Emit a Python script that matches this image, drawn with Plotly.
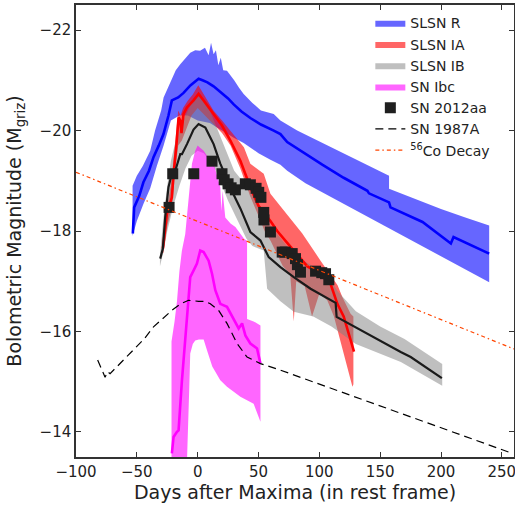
import plotly.graph_objects as go

# ---------------- data ----------------
# SLSN R : mean curve and envelope
slsn_r_x = [-53.3, -52.2, -48, -44.6, -40, -36.3, -32, -28.1, -24, -21.2, -16, -11.6, -6, -2, 0.75, 4, 8,
            13.1, 20, 25, 29.6, 36, 43.3, 52, 62.5, 68, 73.6, 80, 88.6, 102.4, 120, 139.5, 140.8, 157.3,
            158.5, 184.8, 208.1, 210.3, 239.6]
slsn_r_y = [-17.95, -18.47, -18.7, -18.97, -19.2, -19.47, -19.7, -19.93, -20.3, -20.6, -20.66, -20.75,
            -20.9, -20.98, -21.03, -21.0, -20.96, -20.88, -20.75, -20.64, -20.52, -20.38, -20.25, -20.12,
            -20.0, -19.93, -19.77, -19.67, -19.53, -19.32, -19.06, -18.8, -18.75, -18.57, -18.47, -18.18,
            -17.75, -17.88, -17.55]
slsn_r_up_x = [-53.5, -50, -45, -39, -35, -30, -28, -22, -18, -14.3, -10, -6.1, -2, 2, 6, 9, 11, 13.1,
               15, 17, 19, 21, 24.1, 27, 30, 34, 37.8, 45, 52, 62.5, 68, 81.8, 100, 120, 140.8, 157.3,
               157.3, 180, 200, 220, 239.6]
slsn_r_up_y = [-18.9, -19.1, -19.3, -19.6, -20.0, -20.4, -20.66, -21.0, -21.2, -21.32, -21.45, -21.55,
               -21.6, -21.59, -21.65, -21.5, -21.75, -21.52, -21.6, -21.3, -21.45, -21.2, -21.19, -21.1,
               -21.0, -20.85, -20.73, -20.55, -20.4, -20.33, -20.2, -20.0, -19.78, -19.55, -19.3, -19.1,
               -18.84, -18.62, -18.44, -18.27, -18.11]
slsn_r_lo_x = [-53.5, -50, -44.6, -39, -33.5, -28, -22, -15, -8, 0, 10, 20, 30, 37.8, 50, 59.8, 68, 73.6,
               88.6, 239.6]
slsn_r_lo_y = [-17.9, -18.2, -18.54, -18.85, -19.3, -19.7, -20.2, -20.3, -20.3, -20.2, -20.15, -20.0,
               -19.85, -19.75, -19.55, -19.42, -19.32, -19.2, -18.95, -16.98]

# SLSN IA
slsn_ia_x = [-28.6, -25.3, -21.2, -19.8, -17.5, -15.7, -14.3, -13.3, -11.6, -8.8, -3.4, 0.75, 4.9, 13.1,
             20, 26.9, 35.1, 43.3, 50, 59.8, 65.4, 79, 90, 100, 109.2, 114.8, 120, 128.5]
slsn_ia_y = [-17.65, -18.34, -18.67, -19.14, -19.7, -20.26, -20.2, -19.95, -20.33, -20.46, -20.6, -20.73,
             -20.6, -20.33, -20.1, -19.8, -19.4, -18.87, -18.5, -18.2, -18.0, -17.61, -17.3, -17.15,
             -16.95, -16.55, -16.3, -15.6]
slsn_ia_up_x = [-28.8, -25, -21.5, -18, -16, -14, -12, -8, -4, 0.5, 3, 8, 13, 20, 27, 38, 43.3, 54.3,
                59.8, 86, 101, 115, 119, 125.7, 128]
slsn_ia_up_y = [-17.6, -18.5, -19.0, -19.9, -20.4, -20.3, -20.45, -20.6, -20.72, -20.9, -20.8, -20.6,
                -20.4, -20.2, -20.0, -19.67, -19.34, -19.14, -18.74, -17.95, -17.41, -16.92, -16.68,
                -16.35, -16.3]
slsn_ia_lo_x = [-28.2, -25, -21, -18, -16, -13, -10, -5, 0, 10, 20, 27, 35, 43, 50, 55, 60, 70, 76, 79,
                81, 88, 94, 100, 106.5, 112, 127.2, 128]
slsn_ia_lo_y = [-17.55, -18.1, -18.5, -19.3, -19.7, -19.8, -20.0, -20.3, -20.45, -20.2, -19.95, -19.7,
                -19.25, -18.7, -18.3, -18.0, -17.8, -17.3, -17.15, -16.2, -17.0, -16.9, -16.3, -16.75,
                -16.62, -16.3, -14.9, -14.95]

# SLSN IB
slsn_ib_x = [-30.8, -28.6, -26.7, -24, -21.2, -18.4, -14.3, -12.9, -8.8, -6, -3.4, 0.75, 6.3, 10.4,
             13.1, 18.6, 25.5, 30, 35.1, 43.3, 51.6, 58.4, 68, 79, 92.8, 113.4, 114.2, 131.2, 166.9,
             175.1, 200.7]
slsn_ib_y = [-17.45, -17.65, -18.27, -18.87, -19.14, -19.2, -19.53, -19.53, -19.73, -19.9, -20.02,
             -20.13, -20.06, -19.86, -19.73, -19.34, -18.94, -18.7, -18.45, -17.98, -17.81, -17.48,
             -17.28, -17.08, -16.85, -16.57, -16.29, -16.06, -15.59, -15.49, -15.07]
slsn_ib_up_x = [-31, -28, -25, -22, -18, -15, -10, -5, 0, 5, 10, 15, 20, 25, 30, 40, 50, 60, 70, 80, 95,
                110, 115, 130, 150, 170, 201]
slsn_ib_up_y = [-17.5, -18.3, -18.9, -19.4, -19.8, -20.0, -20.3, -20.55, -20.7, -20.6, -20.4, -20.1,
                -19.8, -19.5, -19.2, -18.9, -18.5, -18.1, -17.8, -17.5, -17.3, -17.0, -16.8, -16.4,
                -16.1, -15.85, -15.35]
slsn_ib_lo_x = [-31, -28, -25, -20, -15, -10, -5, 0, 5, 10, 15, 20, 25, 30, 35, 40, 45, 50, 54.3, 57.1,
                68, 79, 95, 110, 130, 167, 201]
slsn_ib_lo_y = [-17.3, -17.6, -18.0, -18.5, -18.9, -19.25, -19.5, -19.6, -19.55, -19.4, -19.2, -18.9,
                -18.6, -18.35, -18.1, -17.85, -17.7, -17.65, -17.61, -16.85, -16.6, -16.39, -16.3,
                -16.1, -15.75, -15.39, -14.92]

# SN Ibc
sn_ibc_x = [-21.2, -19.8, -17, -15.7, -13, -10.2, -8, -6.1, -3.4, -0.6, 2.1, 4.9, 9, 11.8, 14.5, 18.6,
            24.1, 29.6, 33.7, 36.5, 39.2, 43.3, 48.8, 51.6]
sn_ibc_y = [-13.57, -13.9, -14.0, -14.03, -15.0, -15.82, -16.5, -17.08, -17.21, -17.35, -17.61, -17.58,
            -17.41, -17.15, -16.82, -16.55, -16.49, -16.25, -16.06, -16.16, -15.92, -15.76, -15.66,
            -15.36]
sn_ibc_up_x = [-21.5, -21.5, -19, -17, -15, -13, -10.2, -7.5, -4.7, -2, 0, 2, 5, 9, 13.1, 16, 18.6, 19.5,
               20.5, 22.7, 27, 31, 35.1, 38, 40.6, 40.6, 46, 51.6]
sn_ibc_up_y = [-13.4, -15.8, -16.2, -16.6, -17.2, -17.6, -17.94, -18.67, -19.34, -19.6, -19.7, -19.66,
               -19.6, -19.45, -19.34, -19.1, -18.87, -18.4, -18.8, -18.27, -18.15, -18.08, -17.94,
               -17.85, -17.8, -16.25, -16.2, -16.12]
sn_ibc_lo_x = [-8.8, -7, -6.1, -4, -2, 1, 4.9, 8, 12, 18.6, 24.1, 35.1, 46, 51.6]
sn_ibc_lo_y = [-13.4, -14.8, -15.56, -15.75, -15.82, -15.84, -15.84, -15.6, -15.3, -15.03, -14.9, -14.7,
               -14.56, -14.2]

# SN 2012aa
sn2012aa_x = [-23.5, -20.5, -3.2, 11.8, 20, 21.8, 25, 27.5, 31, 39.2, 43.3, 48, 50.2, 52, 54.3, 54.5,
              59.8, 69.5, 72, 77.7, 80.4, 82, 84.5, 96.9, 102, 105.1, 107.8]
sn2012aa_y = [-18.47, -19.14, -19.14, -19.39, -19.14, -19.02, -18.94, -18.86, -18.82, -18.94, -18.92,
              -18.85, -18.77, -18.67, -18.37, -18.22, -17.98, -17.58, -17.58, -17.55, -17.45, -17.33,
              -17.18, -17.2, -17.17, -17.15, -17.03]

# SN 1987A
sn1987a_x = [-82.2, -79, -76.1, -74, -72, -67.9, -60, -52.8, -44, -36.3, -28, -21.2, -14, -7.5, 0.75, 6,
             10.4, 17.2, 24.1, 32.4, 40.6, 51.6, 68, 100, 136.7, 200, 249.3, 258.9]
sn1987a_y = [-15.43, -15.25, -15.09, -15.2, -15.16, -15.26, -15.45, -15.62, -15.85, -16.09, -16.28,
             -16.42, -16.55, -16.62, -16.6, -16.6, -16.55, -16.42, -16.16, -15.76, -15.49, -15.36,
             -15.23, -14.95, -14.63, -14.07, -13.64, -13.57]

# 56Co decay line
co_x = [-100, 260]
co_y = [-19.17, -15.65]

x_ticks = [-100, -50, 0, 50, 100, 150, 200, 250]
y_ticks = [-22, -20, -18, -16, -14]

# ---------------- figure ----------------
FONT = "DejaVu Sans"
fig = go.Figure()


def band(xu, yu, xl, yl):
    return list(xu) + list(xl)[::-1], list(yu) + list(yl)[::-1]


bands = [
    ("SLSN R", slsn_r_up_x, slsn_r_up_y, slsn_r_lo_x, slsn_r_lo_y, "rgba(0,0,255,0.6)"),
    ("SLSN IA", slsn_ia_up_x, slsn_ia_up_y, slsn_ia_lo_x, slsn_ia_lo_y, "rgba(255,0,0,0.6)"),
    ("SLSN IB", slsn_ib_up_x, slsn_ib_up_y, slsn_ib_lo_x, slsn_ib_lo_y, "rgba(128,128,128,0.5)"),
    ("SN Ibc", sn_ibc_up_x, sn_ibc_up_y, sn_ibc_lo_x, sn_ibc_lo_y, "rgba(255,0,255,0.6)"),
]
for name, xu, yu, xl, yl, col in bands:
    bx, by = band(xu, yu, xl, yl)
    fig.add_trace(go.Scatter(x=bx, y=by, mode="lines", fill="toself", fillcolor=col,
                             line=dict(width=0, color=col), name=name, hoverinfo="skip"))

lines = [
    (slsn_r_x, slsn_r_y, "#0000ff", 2.6),
    (slsn_ia_x, slsn_ia_y, "#ff0000", 2.6),
    (slsn_ib_x, slsn_ib_y, "#1a1a1a", 2.2),
    (sn_ibc_x, sn_ibc_y, "#ff00ff", 2.6),
]
for lx, ly, col, w in lines:
    fig.add_trace(go.Scatter(x=lx, y=ly, mode="lines", line=dict(color=col, width=w),
                             showlegend=False, hoverinfo="skip"))

fig.add_trace(go.Scatter(x=sn2012aa_x, y=sn2012aa_y, mode="markers", name="SN 2012aa",
                         marker=dict(symbol="square", size=11, color="#1f1f1f", line=dict(width=0))))
fig.add_trace(go.Scatter(x=sn1987a_x, y=sn1987a_y, mode="lines", name="SN 1987A",
                         line=dict(color="black", width=1.2, dash="8px,5px")))
fig.add_trace(go.Scatter(x=co_x, y=co_y, mode="lines", name="<sup>56</sup>Co Decay",
                         line=dict(color="#ff4500", width=1.2, dash="4px,3px,1.5px,3px")))

axis_common = dict(showgrid=False, zeroline=False, showline=True, linecolor="#333333", linewidth=1.5,
                   mirror="ticks", ticks="inside", ticklen=5, tickwidth=1, tickcolor="#333333",
                   automargin=False, ticklabeloverflow="allow",
                   tickfont=dict(family=FONT, size=15, color="#222222"))

fig.update_layout(
    width=515, height=507,
    margin=dict(l=76, r=1, t=5, b=50),
    paper_bgcolor="white", plot_bgcolor="white",
    font=dict(family=FONT, color="#222222"),
    xaxis=dict(range=[-100, 260], tickvals=x_ticks,
               title=dict(text="Days after Maxima (in rest frame)", font=dict(size=19), standoff=4),
               **axis_common),
    yaxis=dict(range=[-13.5, -22.5], tickvals=y_ticks,
               title=dict(text="Bolometric Magnitude (M<sub>griz</sub>)", font=dict(size=19), standoff=13),
               **axis_common),
    legend=dict(x=0.672, y=0.995, xanchor="left", yanchor="top", bgcolor="rgba(255,255,255,0)",
                font=dict(family=FONT, size=14, color="#222222"), borderwidth=0),
    showlegend=True,
)

fig.write_html("out.html", config={"displayModeBar": False},
               post_script="document.body.style.margin='0';")
